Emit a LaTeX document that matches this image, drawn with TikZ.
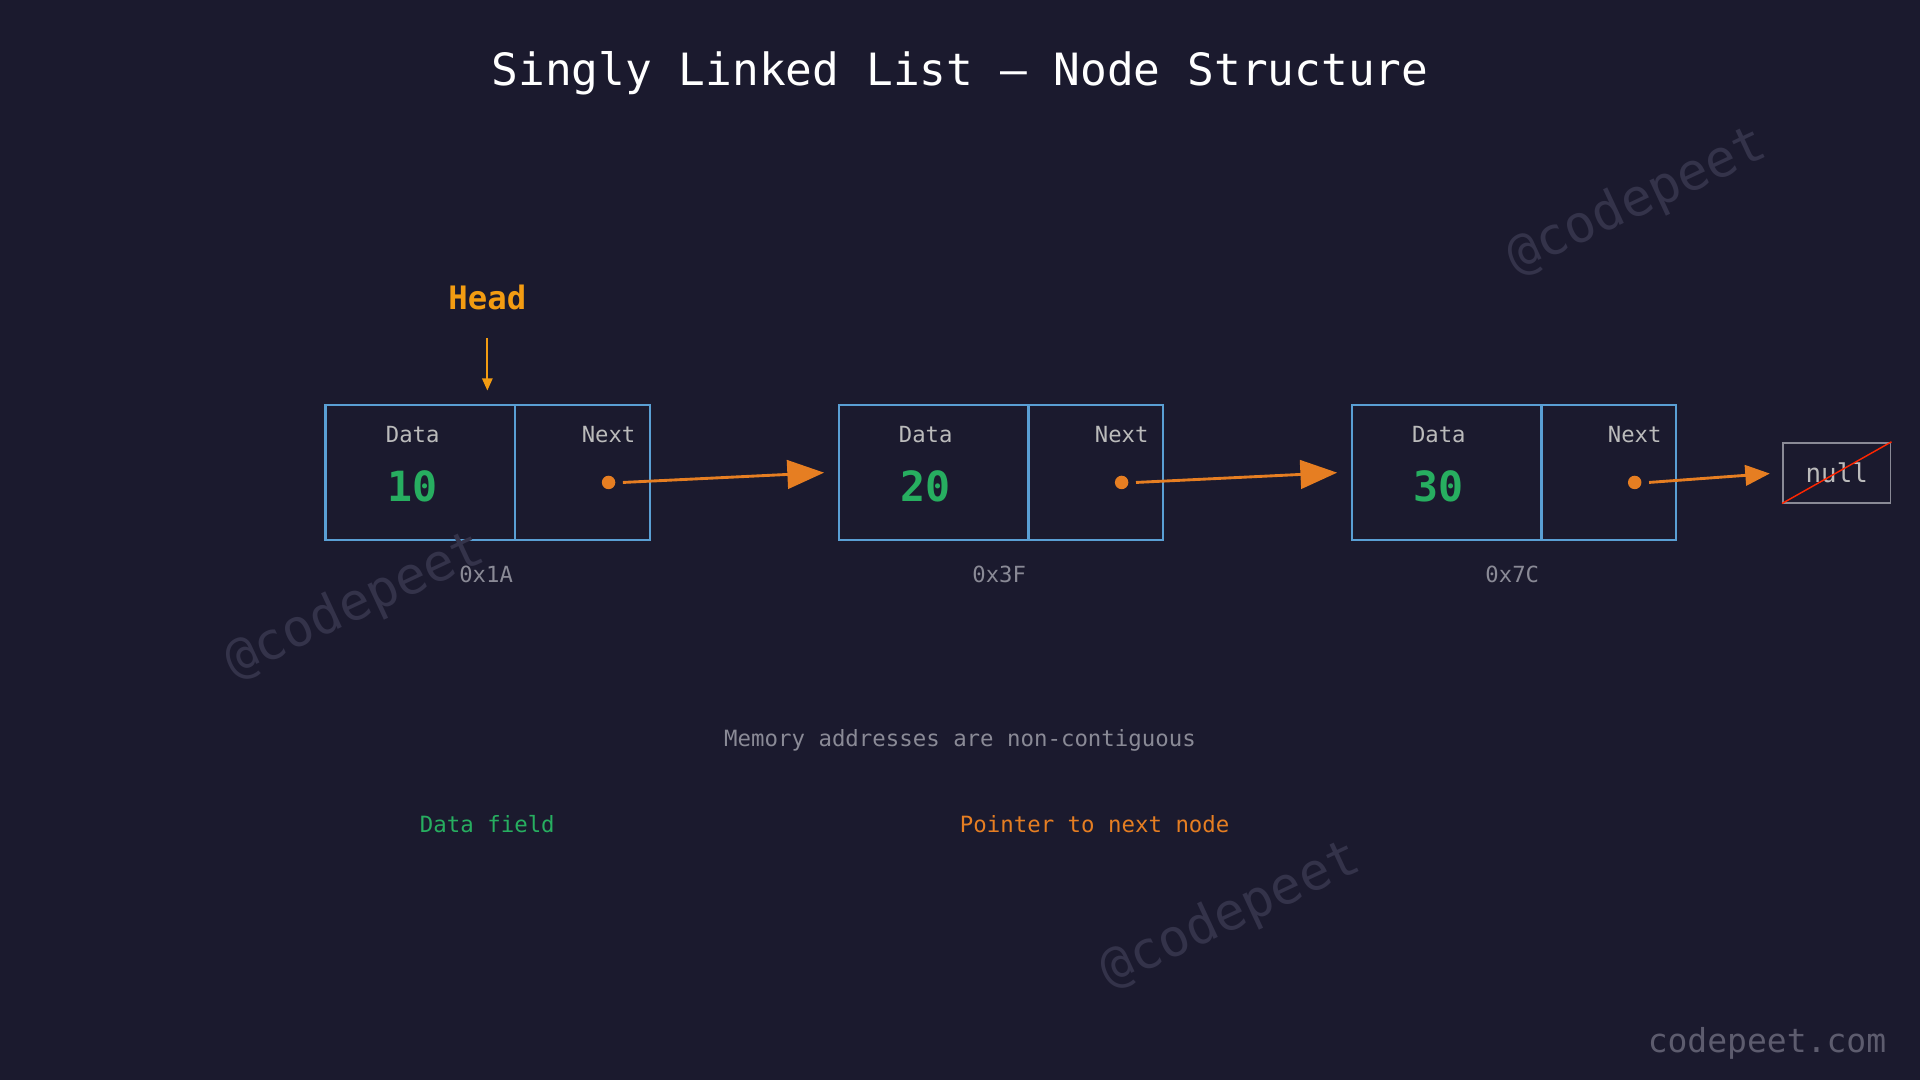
\documentclass[tikz,border=0pt]{standalone}
\usepackage{fontspec}
\setmonofont{DejaVu Sans Mono}
\usetikzlibrary{arrows.meta}
\definecolor{bg}{HTML}{1B1A2E}
\definecolor{bl}{HTML}{5A9FD4}
\definecolor{gr}{HTML}{27AE60}
\definecolor{orn}{HTML}{E67E22}
\definecolor{hd}{HTML}{F39C12}
\definecolor{lg}{HTML}{BBBBBB}
\definecolor{mg}{HTML}{8A8A96}
\definecolor{wm}{HTML}{34334A}
\newcommand{\fs}[1]{\fontsize{#1}{#1}\selectfont\ttfamily}
\begin{document}
\begin{tikzpicture}[x=0.3mm,y=-0.3mm,
 cell/.style={draw=bl,line width=1.5pt,minimum height=110*0.3mm,inner sep=0pt},
 lbl/.style={text=lg,font=\fs{15.5}},
 val/.style={text=gr,font=\fs{29}\bfseries},
 addr/.style={text=mg,font=\fs{15.5}},
 dot/.style={circle,fill=orn,minimum size=11*0.3mm,inner sep=0pt},
 ptr/.style={orn,line width=2pt,-{Triangle[length=9mm,width=7mm]}},
 wmk/.style={text=wm,font=\fs{36},rotate=25}]
\fill[bg] (0,0) rectangle (1568,882);
\useasboundingbox (0,0) rectangle (1568,882);
\node[text=white,font=\fs{31}] (title) at (784,60) {Singly Linked List — Node Structure};
\node[text=hd,font=\fs{22.5}\bfseries] (head) at (398,243) {Head};
\coordinate (hs) at (398,276);
\foreach \i/\x/\v/\a in {1/265/10/0x1A,2/684/20/0x3F,3/1103/30/0x7C}{
 \node[cell,minimum width=155*0.3mm,anchor=north west] (d\i) at (\x,330) {};
 \node[cell,minimum width=110*0.3mm,anchor=north west] (n\i) at (\x+155,330) {};
 \node[lbl] (dl\i) at (\x+72,355) {Data};
 \node[lbl] (nl\i) at (\x+232,355) {Next};
 \node[val] (v\i) at (\x+72,397) {\v};
 \node[dot] (p\i) at (\x+232,394) {};
 \node[addr] (a\i) at (\x+132,469) {\a};
}
\draw[hd,line width=1.5pt,-{Triangle[length=3mm,width=2.5mm]}] (hs) -- (398,319);
\node[draw=mg,line width=1.2pt,minimum width=88*0.3mm,minimum height=49*0.3mm,text=lg,font=\fs{18}] (null) at (1500,386) {null};
\draw[red!70!orange,line width=1pt] (null.south west) -- (null.north east);
\coordinate (t1) at (673,386);
\coordinate (t2) at (1092,386);
\draw[ptr] (p1.east)++(6,0) -- (t1);
\draw[ptr] (p2.east)++(6,0) -- (t2);
\draw[orn,line width=2pt,-{Triangle[length=6mm,width=5mm]},shorten >=10*0.3mm] (p3.east)++(6,0) -- (null.west);
\node[text=mg,font=\fs{15.6}] (mem) at (784,605) {Memory addresses are non-contiguous};
\node[text=gr,font=\fs{15.6}] (df) at (398,673) {Data field};
\node[text=orn,font=\fs{15.6}] (pn) at (894,673) {Pointer to next node};
\node[wmk] (w1) at (1337,165) {@codepeet};
\node[wmk] (w2) at (290,495) {@codepeet};
\node[wmk] (w3) at (1005,748) {@codepeet};
\node[text=wm!80!white,font=\fs{23}] (site) at (1443,852) {codepeet.com};
\end{tikzpicture}
\end{document}
